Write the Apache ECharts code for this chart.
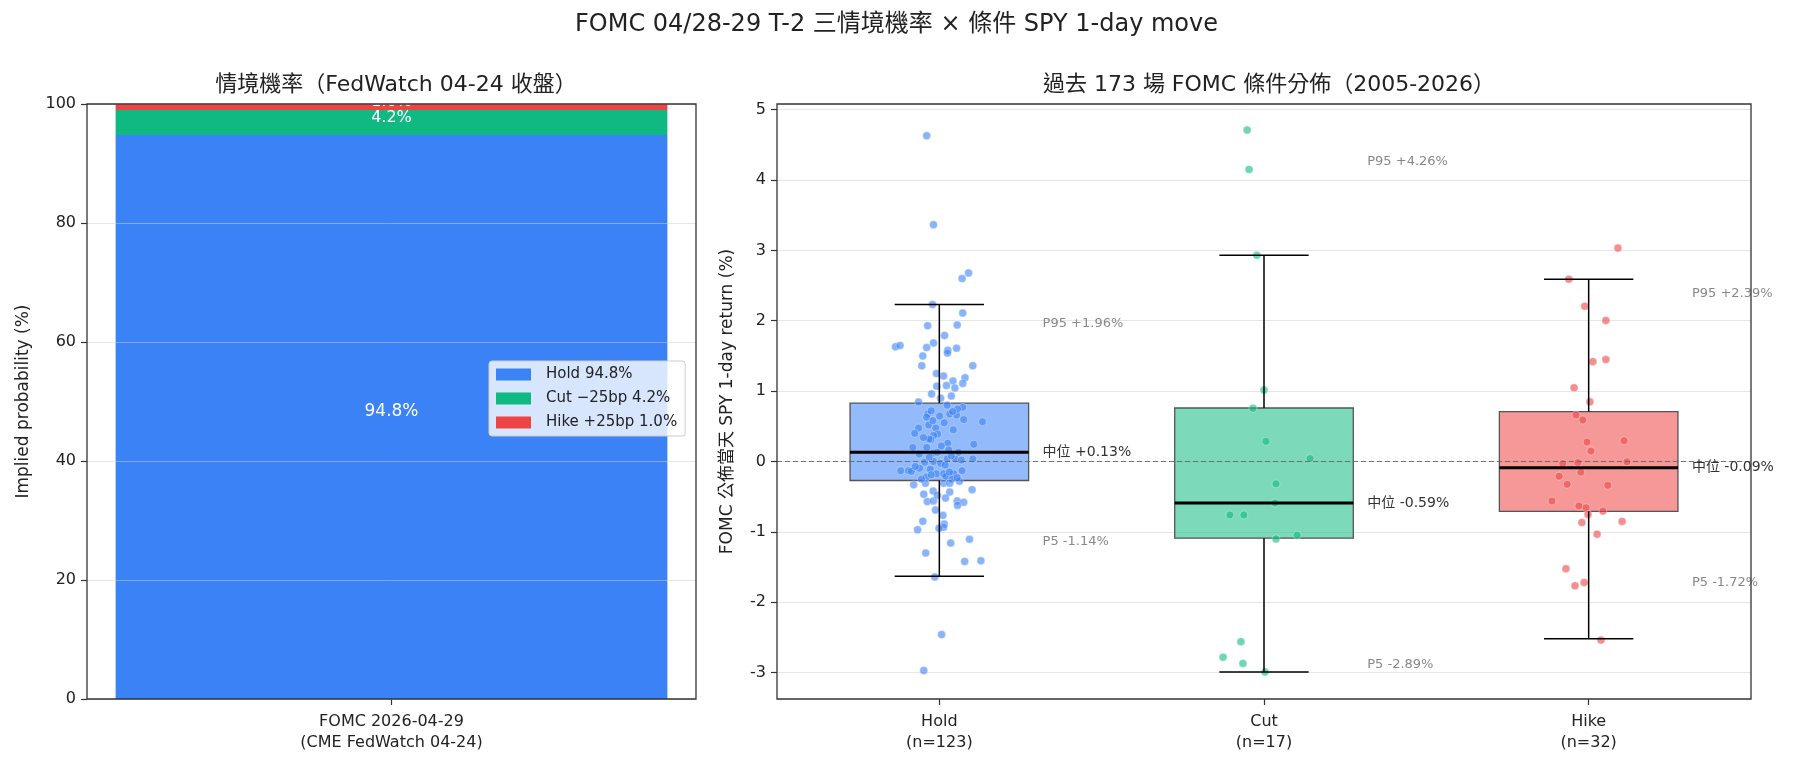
<!DOCTYPE html>
<html><head><meta charset="utf-8">
<script src="https://cdn.jsdelivr.net/npm/echarts@6/dist/echarts.min.js"></script>
<style>html,body{margin:0;padding:0;background:#fff}#c{width:1793px;height:767px}</style>
</head><body><div id="c"></div>
<script>
const FONT = "'DejaVu Sans', 'Noto Sans CJK TC', sans-serif";

// ---------- Left panel data ----------
const scenarioLabels = ['Hold', 'Cut −25bp', 'Hike +25bp'];
const scenarioProbs = [94.8, 4.2, 1.0];
const scenarioColors = ['#3b82f6', '#10b981', '#ef4444'];
const leftCategory = ['FOMC 2026-04-29\n(CME FedWatch 04-24)'];

// ---------- Right panel data ----------
const groupNames = ['Hold', 'Cut', 'Hike'];
const groupCounts = [123, 17, 32];
const whiskerLow = [-1.63, -2.99, -2.52];
const quart1 = [-0.27, -1.09, -0.71];
const medians = [0.13, -0.59, -0.09];
const quart3 = [0.83, 0.76, 0.71];
const whiskerHigh = [2.23, 2.93, 2.59];
const p95 = [1.96, 4.26, 2.39];
const p5 = [-1.14, -2.89, -1.72];
const rightTicks = [-3, -2, -1, 0, 1, 2, 3, 4, 5];

const holdValues = [4.63,3.365,2.68,2.60,2.23,2.11,1.93,1.94,1.79,1.685,1.63,1.65,1.62,1.58,1.54,1.61,1.50,1.36,1.36,1.215,1.19,1.145,1.11,1.07,1.08,1.045,0.96,0.90,0.845,0.80,0.675,0.63,0.645,0.675,0.66,0.77,0.745,0.71,0.595,0.565,0.52,0.475,0.475,
 0.40,0.39,0.37,0.31,0.32,0.26,0.245,0.20,0.20,0.165,0.13,0.105,0.12,0.035,0.035,0.035,-0.01,0.00,-0.025,-0.095,-0.13,-0.13,-0.14,-0.11,-0.175,-0.13,-0.175,-0.175,-0.22,-0.21,-0.25,-0.31,-0.33,-0.31,-0.31,-0.40,-0.42,-0.435,-0.465,-0.52,-0.57,-0.56,-0.56,-0.58,-0.625,-0.69,-0.765,-0.85,-0.89,-0.935,-0.95,-0.97,-1.105,-1.16,-1.30,-1.42,-1.41,-1.64,-2.46,-2.97,
 1.25,0.93,0.72,0.58,0.55,0.45,0.34,0.22,0.13,-0.28,-0.48,0.08,0.06,0.02,-0.05,-0.07,-0.15,-0.19,-0.23,-0.25];
const holdJitter = [-0.039,-0.018,0.090,0.070,-0.021,0.072,-0.036,0.055,0.016,-0.018,-0.135,-0.121,-0.039,0.026,0.025,0.053,-0.051,-0.054,0.103,0.013,0.079,0.042,0.072,-0.008,0.022,0.048,-0.024,0.004,-0.064,0.024,-0.036,-0.039,0.001,0.032,0.053,0.072,0.056,0.041,0.075,0.133,-0.033,-0.064,-0.011,
 -0.076,-0.005,-0.018,-0.026,-0.032,0.026,0.106,-0.082,-0.039,0.029,0.059,-0.062,-0.018,0.024,0.049,0.103,-0.045,-0.018,0.004,-0.061,-0.119,-0.095,-0.086,-0.028,-0.009,0.070,0.013,0.044,-0.040,0.020,0.039,-0.043,-0.079,0.013,0.032,0.101,-0.019,0.032,-0.048,0.019,-0.037,-0.018,0.055,0.075,0.056,-0.012,0.011,-0.051,0.015,0.013,-0.001,-0.067,0.093,0.035,-0.042,0.078,0.128,-0.014,0.007,-0.048,
 -0.009,0.037,-0.025,-0.020,0.015,0.043,-0.049,0.006,-0.006,0.062,-0.006,0.037,-0.031,0.068,0.018,-0.074,0.031,-0.025,0.055,-0.055];

const cutValues = [4.71,4.15,2.93,1.016,0.755,0.286,0.042,-0.318,-0.59,-0.76,-0.76,-1.047,-1.10,-2.56,-2.78,-2.87,-2.99];
const cutJitter = [-0.052,-0.046,-0.022,0.000,-0.034,0.006,0.142,0.037,0.034,-0.105,-0.062,0.102,0.037,-0.071,-0.126,-0.065,0.003];

const hikeValues = [3.033,2.59,2.205,2.005,1.419,1.448,1.048,0.848,0.662,0.59,0.276,0.295,0.148,-0.03,-0.014,-0.005,-0.152,-0.21,-0.324,-0.338,-0.562,-0.633,-0.657,-0.752,-0.705,-0.867,-0.852,-1.033,-1.524,-1.767,-1.719,-2.538];
const hikeJitter = [0.090,-0.061,-0.012,0.053,0.013,0.053,-0.045,0.004,-0.039,-0.018,-0.005,0.109,0.007,-0.080,-0.033,0.118,-0.024,-0.091,-0.066,0.059,-0.113,-0.030,-0.008,-0.002,0.044,-0.021,0.103,0.026,-0.070,-0.042,-0.014,0.038];

// ---------- Build ----------
const BOX_HALF = 0.275, CAP_HALF = 0.1375, ANNOT_DX = 0.318;
function rgba(hex, a) {
  const n = parseInt(hex.slice(1), 16);
  return `rgba(${(n >> 16) & 255},${(n >> 8) & 255},${n & 255},${a})`;
}
const fmtPct = v => (v >= 0 ? '+' : '') + v.toFixed(2) + '%';
const boxData = groupNames.map((g, i) => [i, whiskerLow[i], quart1[i], medians[i], quart3[i], whiskerHigh[i]]);
const annotations = [];
groupNames.forEach((g, i) => {
  annotations.push({x: i + ANNOT_DX, y: p95[i], text: 'P95 ' + fmtPct(p95[i]), color: '#888', size: 13});
  annotations.push({x: i + ANNOT_DX, y: medians[i], text: '中位 ' + fmtPct(medians[i]), color: '#333', size: 14});
  annotations.push({x: i + ANNOT_DX, y: p5[i], text: 'P5 ' + fmtPct(p5[i]), color: '#888', size: 13});
});
const pointSets = [[holdValues, holdJitter], [cutValues, cutJitter], [hikeValues, hikeJitter]];
const legendNames = scenarioLabels.map((l, i) => `${l} ${scenarioProbs[i].toFixed(1)}%`);

const axisText = {fontSize: 16, color: '#222', fontFamily: FONT};
const tickStyle = {show: true, length: 6, lineStyle: {color: '#333', width: 1.2}};
const gridLine = {show: true, lineStyle: {color: 'rgba(205,205,205,0.5)', width: 1}};
const noLine = {show: false, onZero: false};

const series = [];
scenarioLabels.forEach((l, i) => {
  series.push({
    type: 'bar', name: legendNames[i], xAxisIndex: 0, yAxisIndex: 0, stack: 'prob',
    data: [scenarioProbs[i]], barWidth: '90.6%',
    itemStyle: {color: scenarioColors[i]},
    label: {show: true, position: 'inside', color: '#fff', fontSize: i === 0 ? 17 : 16, fontFamily: FONT,
      offset: [0, -5], formatter: p => p.value.toFixed(1) + '%'}
  });
});
series.push({
  type: 'custom', xAxisIndex: 2, yAxisIndex: 1, z: 2, clip: false,
  data: boxData, encode: {x: 0, y: [1, 2, 3, 4, 5]},
  renderItem: (params, api) => {
    const x = api.value(0);
    const tl = api.coord([x - BOX_HALF, api.value(4)]);
    const br = api.coord([x + BOX_HALF, api.value(2)]);
    return {type: 'rect', shape: {x: tl[0], y: tl[1], width: br[0] - tl[0], height: br[1] - tl[1]},
      style: {fill: rgba(scenarioColors[params.dataIndex], 0.55), stroke: '#555', lineWidth: 1.3}};
  }
});
pointSets.forEach(([vals, jit], gi) => {
  series.push({
    type: 'scatter', xAxisIndex: 2, yAxisIndex: 1, z: 3, symbolSize: 8,
    data: vals.map((v, k) => [gi + jit[k], v]),
    itemStyle: {color: scenarioColors[gi], opacity: 0.6, borderColor: '#fff', borderWidth: 0.6}
  });
});
series.push({
  type: 'custom', xAxisIndex: 2, yAxisIndex: 1, z: 4, clip: false,
  data: boxData, encode: {x: 0, y: [1, 2, 3, 4, 5]},
  renderItem: (params, api) => {
    const x = api.value(0);
    const c = (dx, vi) => api.coord([x + dx, api.value(vi)]);
    const ln = (a, b, w) => ({type: 'line', shape: {x1: a[0], y1: a[1], x2: b[0], y2: b[1]}, style: {stroke: '#000', lineWidth: w}});
    return {type: 'group', children: [
      ln(c(0, 4), c(0, 5), 1.5),
      ln(c(-CAP_HALF, 5), c(CAP_HALF, 5), 1.5),
      ln(c(0, 2), c(0, 1), 1.5),
      ln(c(-CAP_HALF, 1), c(CAP_HALF, 1), 1.5),
      ln(c(-BOX_HALF, 3), c(BOX_HALF, 3), 3)
    ]};
  },
  markLine: {silent: true, symbol: 'none', label: {show: false},
    lineStyle: {type: [5, 3], color: '#666', width: 0.9}, data: [{yAxis: 0}]}
});
series.push({
  type: 'custom', xAxisIndex: 2, yAxisIndex: 1, z: 5, clip: false,
  data: annotations.map(a => [a.x, a.y]), encode: {x: 0, y: 1},
  renderItem: (params, api) => {
    const a = annotations[params.dataIndex];
    const p = api.coord([api.value(0), api.value(1)]);
    return {type: 'text', x: p[0], y: p[1],
      style: {text: a.text, fill: a.color, fontSize: a.size, fontFamily: FONT, align: 'left', verticalAlign: 'middle'}};
  }
});

const option = {
  animation: false,
  backgroundColor: '#fff',
  title: [
    {text: 'FOMC 04/28-29 T-2 三情境機率 × 條件 SPY 1-day move', left: 'center', top: 8,
      textStyle: {fontSize: 24, fontWeight: 'normal', color: '#222', fontFamily: FONT}},
    {text: '情境機率（FedWatch 04-24 收盤）', left: 391, top: 69, textAlign: 'center',
      textStyle: {fontSize: 22, fontWeight: 'normal', color: '#222', fontFamily: FONT}},
    {text: '過去 173 場 FOMC 條件分佈（2005-2026）', left: 1264, top: 69, textAlign: 'center',
      textStyle: {fontSize: 22, fontWeight: 'normal', color: '#222', fontFamily: FONT}}
  ],
  legend: {
    data: legendNames, left: 489, top: 361, orient: 'vertical', icon: 'rect',
    itemWidth: 35, itemHeight: 12, itemGap: 9, padding: [6, 8, 6, 7],
    backgroundColor: 'rgba(255,255,255,0.8)', borderColor: '#cccccc', borderWidth: 1, borderRadius: 3,
    selectedMode: false,
    textStyle: {fontSize: 15, color: '#222', fontFamily: FONT, padding: [0, 0, 0, 10]}
  },
  grid: [
    {left: 87, top: 104, width: 609, height: 595, show: true, borderColor: '#333', borderWidth: 1.3, backgroundColor: 'transparent', z: 10},
    {left: 777, top: 104, width: 974, height: 595, show: true, borderColor: '#333', borderWidth: 1.3, backgroundColor: 'transparent', z: 10}
  ],
  xAxis: [
    {type: 'category', gridIndex: 0, data: leftCategory, position: 'bottom', axisLine: noLine,
      axisTick: Object.assign({alignWithLabel: true}, tickStyle),
      axisLabel: Object.assign({margin: 12, lineHeight: 21}, axisText)},
    {type: 'category', gridIndex: 1, position: 'bottom', data: groupNames.map((g, i) => `${g}\n(n=${groupCounts[i]})`), axisLine: noLine,
      axisTick: Object.assign({alignWithLabel: true}, tickStyle),
      axisLabel: Object.assign({margin: 12, lineHeight: 21}, axisText)},
    {type: 'value', gridIndex: 1, min: -0.5, max: 2.5, show: false, axisLine: noLine}
  ],
  yAxis: [
    {type: 'value', gridIndex: 0, min: 0, max: 100, interval: 20, z: 3, position: 'left',
      axisLine: noLine, axisTick: tickStyle,
      axisLabel: Object.assign({margin: 11}, axisText), splitLine: gridLine,
      name: 'Implied probability (%)', nameLocation: 'middle', nameGap: 55,
      nameTextStyle: {fontSize: 17, color: '#222', fontFamily: FONT}},
    {type: 'value', gridIndex: 1, min: -3.375, max: 5.08, position: 'left',
      axisLine: noLine, axisTick: Object.assign({customValues: rightTicks}, tickStyle),
      axisLabel: Object.assign({margin: 11, customValues: rightTicks, formatter: v => String(v)}, axisText),
      splitLine: gridLine,
      name: 'FOMC 公佈當天 SPY 1-day return (%)', nameLocation: 'middle', nameGap: 41,
      nameTextStyle: {fontSize: 17, color: '#222', fontFamily: FONT}}
  ],
  series: series
};
const chart = echarts.init(document.getElementById('c'), null, {renderer: 'canvas'});
chart.setOption(option);
</script></body></html>
